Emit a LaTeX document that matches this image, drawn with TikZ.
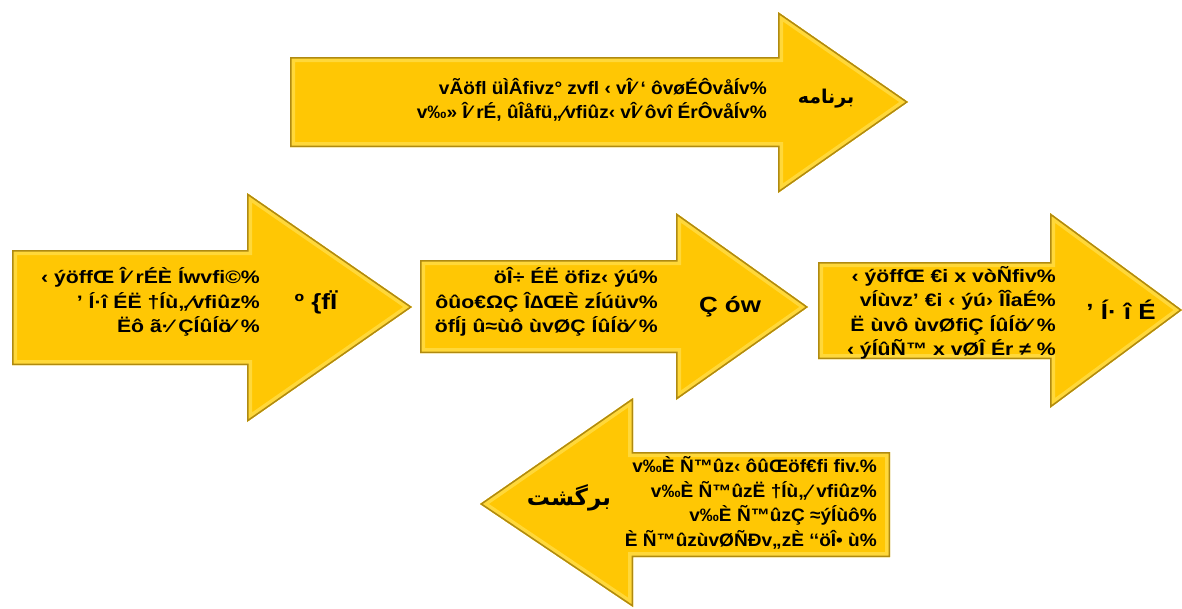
\documentclass[tikz,border=0pt]{standalone}
\usepackage{fontspec}
\setmainfont{Liberation Sans}[FakeStretch=1.18]
\newfontfamily\narrowfont{Liberation Sans}[FakeStretch=1.06]
\newfontfamily\arabicfont[Script=Arabic]{DejaVu Sans}
\TeXXeTstate=1
\definecolor{arrowgold}{HTML}{FFC704}
\definecolor{arrowglow}{HTML}{FFD83A}
\definecolor{arrowrim}{HTML}{B08A10}

\begin{document}
\begin{tikzpicture}[x=1pt,y=-1pt,
  txt/.style={anchor=east,align=right,inner sep=0pt,font=\bfseries\fontsize{18}{24.5}\selectfont},
  narrowtxt/.style={txt,font=\narrowfont\bfseries\fontsize{18}{24.5}\selectfont},
  lbl/.style={inner sep=0pt,font=\bfseries\fontsize{22}{24}\selectfont},
  glow/.style={draw=arrowglow,line width=10pt,line join=miter},
  rim/.style={draw=arrowrim,line width=3pt,line join=miter}]
  \useasboundingbox (0,0) rectangle (1182,608);
  % arrows: body x, body top, body bottom, head base x, head top, head bottom, tip
  \foreach \xa/\ya/\yb/\xh/\hu/\hd/\xt/\yt in {290/57/147/778/12/193/908/102,
      12/250/365/247/193/422/412/307,
      420/260/353/676/213/400/808/307,
      818/262/359/1050/213/408/1182/310,
      890/452/557/633/398/607/480/504}{
    \begin{scope}
      \clip (\xa,\ya) -- (\xh,\ya) -- (\xh,\hu) -- (\xt,\yt) -- (\xh,\hd) -- (\xh,\yb) -- (\xa,\yb) -- cycle;
      \fill[arrowgold] (\xa,\ya) -- (\xh,\ya) -- (\xh,\hu) -- (\xt,\yt) -- (\xh,\hd) -- (\xh,\yb) -- (\xa,\yb) -- cycle;
      \draw[glow] (\xa,\ya) -- (\xh,\ya) -- (\xh,\hu) -- (\xt,\yt) -- (\xh,\hd) -- (\xh,\yb) -- (\xa,\yb) -- cycle;
      \draw[rim] (\xa,\ya) -- (\xh,\ya) -- (\xh,\hu) -- (\xt,\yt) -- (\xh,\hd) -- (\xh,\yb) -- (\xa,\yb) -- cycle;
    \end{scope}
  }

  % texts
  \node[narrowtxt] (plantext) at (767,100) {vÃöfl üÌÂfivz° zvfl ‹ vÎ⁄ ‘ ôvøÉÔvåÍv\%\\v‰» Î⁄ rÉ, ûÎåfü„⁄vfiûz‹ vÎ⁄ ôvî ÉrÔvåÍv\%};
  \node[lbl,font=\bfseries\fontsize{19}{22}\selectfont] (planlabel) at (826,99) {\arabicfont\beginR برنامه\endR};

  \node[txt] (firsttext) at (260,302) {‹ ýöffŒ Î⁄ rÉÈ Íwvfi©\%\\’ Í·î ÉË †Íù„⁄vfiûz\%\\Ëô ã·⁄ ÇÍûÍö⁄ \%};
  \node[lbl] (firstlabel) at (316,302) {º \{fÏ};

  \node[txt] (secondtext) at (658,302) {öÎ÷ ÉË öfiz‹ ýú\%\\ôûo€ΩÇ Î∆ŒÈ zÍúüv\%\\öfÍj û≈ùô ùvØÇ ÍûÍö⁄ \%};
  \node[lbl] (secondlabel) at (730,307) {Ç ów};

  \node[txt] (thirdtext) at (1056,313) {‹ ýöffŒ €i x vòÑfiv\%\\vÍùvz’ €i ‹ ýú› ÎÎaÉ\%\\Ë ùvô ùvØfiÇ ÍûÍö⁄ \%\\‹ ýÍûÑ™ x vØÎ Ér ≠ \%};
  \node[lbl] (thirdlabel) at (1121,310) {’ Í· î É};

  \node[narrowtxt] (backtext) at (877,503) {v‰È Ñ™ûz‹ ôûŒöf€fi fiv.\%\\v‰È Ñ™ûzË †Íù„⁄ vfiûz\%\\v‰È Ñ™ûzÇ ≈ýÍùô\%\\È Ñ™ûzùvØÑÐv„zÈ ‘‘öÎ• ù\%};
  \node[lbl,font=\bfseries\fontsize{23}{26}\selectfont] (backlabel) at (569,498) {\arabicfont\beginR برگشت\endR};
\end{tikzpicture}
\end{document}
